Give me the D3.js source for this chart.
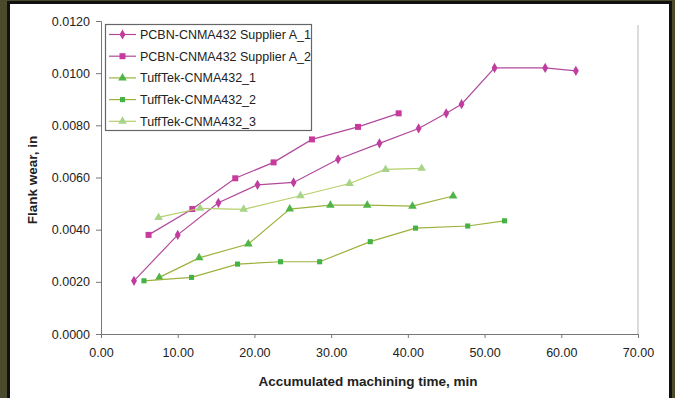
<!DOCTYPE html>
<html>
<head>
<meta charset="utf-8">
<script src="https://d3js.org/d3.v7.min.js"></script>
<style>
  body { margin: 0; background: #4b4a2c; }
  svg { display: block; }
  text { font-family: Arial, "Liberation Sans", sans-serif; fill: #222; }
</style>
</head>
<body>
<svg id="chart" width="675" height="398"></svg>
<script>
// series data: [minutes, flank wear in]
var pcbnA1 = [[4.3,0.00204],[10.0,0.0038],[15.3,0.00503],[20.4,0.00572],[25.1,0.00581],[30.9,0.0067],
              [36.3,0.00731],[41.4,0.00788],[45.0,0.00846],[47.0,0.00881],[51.3,0.0102],[57.9,0.0102],[61.9,0.01009]];
var pcbnA2 = [[6.2,0.0038],[11.9,0.00479],[17.5,0.00597],[22.5,0.00658],[27.5,0.00746],[33.5,0.00794],[38.8,0.00846]];
var tuff1 = [[7.6,0.00217],[12.8,0.00292],[19.2,0.00345],[24.6,0.00479],[29.9,0.00494],[34.7,0.00494],[40.6,0.0049],[45.9,0.00529]];
var tuff2 = [[5.6,0.00204],[11.8,0.00217],[17.8,0.00268],[23.4,0.00277],[28.5,0.00277],[35.1,0.00354],[41.0,0.00406],[47.8,0.00414],[52.6,0.00434]];
var tuff3 = [[7.5,0.00447],[12.9,0.00482],[18.6,0.00478],[26.0,0.0053],[32.4,0.00577],[37.1,0.00631],[41.8,0.00635]];

var seriesNames = ["PCBN-CNMA432 Supplier A_1","PCBN-CNMA432 Supplier A_2","TuffTek-CNMA432_1","TuffTek-CNMA432_2","TuffTek-CNMA432_3"];
var xTicks = [0,10,20,30,40,50,60,70];
var yTicks = [0,0.002,0.004,0.006,0.008,0.010,0.012];

var series = [
  {name: seriesNames[0], data: pcbnA1, line: "#b24a9c", fill: "#c03c9e", sym: d3.symbolDiamond, size: 30},
  {name: seriesNames[1], data: pcbnA2, line: "#b24a9c", fill: "#c83a9c", sym: d3.symbolSquare, size: 36},
  {name: seriesNames[2], data: tuff1, line: "#9cb23c", fill: "#4fb546", sym: d3.symbolTriangle, size: 32},
  {name: seriesNames[3], data: tuff2, line: "#9cb23c", fill: "#44b244", sym: d3.symbolSquare, size: 26},
  {name: seriesNames[4], data: tuff3, line: "#b6cf6a", fill: "#a8d48a", sym: d3.symbolTriangle, size: 32}
];

var svg = d3.select("#chart");

// panel with black frame
svg.append("rect").attr("x", 8.5).attr("y", 2.5).attr("width", 662).attr("height", 400)
  .attr("fill", "#fff").attr("stroke", "#111").attr("stroke-width", 3);

var x = d3.scaleLinear().domain([0, 70]).range([101, 638]);
var y = d3.scaleLinear().domain([0, 0.012]).range([334, 21]);

// plot area right border
svg.append("line").attr("x1", 638).attr("x2", 638).attr("y1", 25).attr("y2", 334)
  .attr("stroke", "#cfcfcf").attr("stroke-width", 1.5);

var xAxis = svg.append("g").attr("transform", "translate(0,334)")
  .call(d3.axisBottom(x).tickValues(xTicks).tickSize(4).tickFormat(d3.format(".2f")));
var yAxis = svg.append("g").attr("transform", "translate(101,0)")
  .call(d3.axisLeft(y).tickValues(yTicks).tickSize(5).tickFormat(d3.format(".4f")));

[xAxis, yAxis].forEach(function(a) {
  a.select(".domain").attr("stroke", "#777");
  a.selectAll(".tick line").attr("stroke", "#777");
  a.selectAll(".tick text").attr("font-size", 12.5).attr("font-family", "Arial, 'Liberation Sans', sans-serif").attr("fill", "#333");
});
xAxis.selectAll(".tick text").attr("dy", "1.25em");
yAxis.selectAll(".tick text").attr("x", -11);

svg.append("text").attr("x", 368).attr("y", 386).attr("text-anchor", "middle")
  .attr("font-size", 13.5).attr("font-weight", "bold").text("Accumulated machining time, min");
svg.append("text").attr("transform", "translate(37,180) rotate(-90)").attr("text-anchor", "middle")
  .attr("font-size", 13.5).attr("font-weight", "bold").text("Flank wear, in");

var line = d3.line().x(function(d) { return x(d[0]); }).y(function(d) { return y(d[1]); });

series.forEach(function(s) {
  svg.append("path").datum(s.data).attr("d", line)
    .attr("fill", "none").attr("stroke", s.line).attr("stroke-width", 1.2);
  svg.append("g").selectAll("path").data(s.data).enter().append("path")
    .attr("transform", function(d) { return "translate(" + x(d[0]) + "," + y(d[1]) + ")"; })
    .attr("d", d3.symbol().type(s.sym).size(s.size))
    .attr("fill", s.fill);
});

// legend
var lg = svg.append("g");
lg.append("rect").attr("x", 105.5).attr("y", 24.5).attr("width", 206).attr("height", 106)
  .attr("fill", "#fff").attr("stroke", "#666").attr("stroke-width", 1.2);
series.forEach(function(s, i) {
  var ly = 34.5 + i * 21.7;
  lg.append("line").attr("x1", 109).attr("x2", 136).attr("y1", ly).attr("y2", ly)
    .attr("stroke", s.line).attr("stroke-width", 1.2);
  lg.append("path").attr("transform", "translate(122.5," + ly + ")")
    .attr("d", d3.symbol().type(s.sym).size(s.size)).attr("fill", s.fill);
  lg.append("text").attr("x", 140).attr("y", ly + 4.4).attr("font-size", 12.5).text(s.name);
});
</script>
</body>
</html>
